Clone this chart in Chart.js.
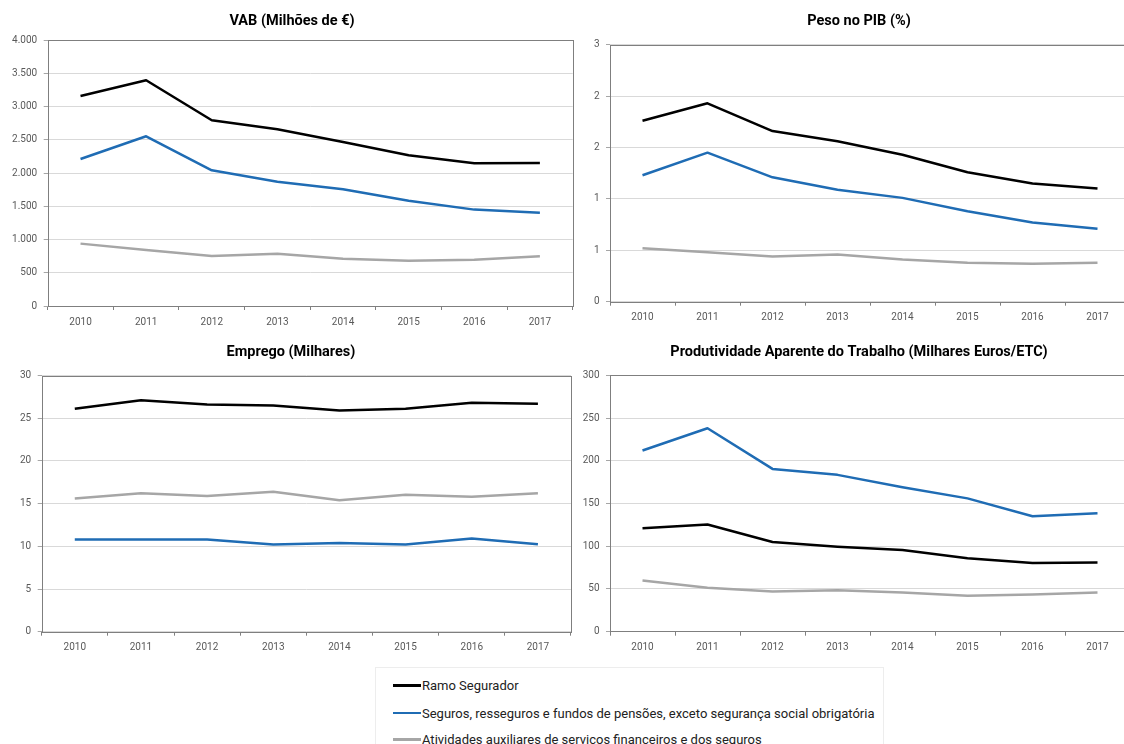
<!DOCTYPE html>
<html>
<head>
<meta charset="utf-8">
<script src="https://cdn.jsdelivr.net/npm/chart.js@4.4.0/dist/chart.umd.min.js"></script>
<style>
  html, body { margin: 0; padding: 0; background: #fff; overflow: hidden; }
  body { width: 1124px; height: 744px; position: relative; font-family: Roboto, sans-serif; }
  .box { position: absolute; }
  #legend { position: absolute; left: 375px; top: 667px; width: 507px; height: 95px; border: 1px solid #ededed; }
  .item { position: absolute; left: 17px; height: 16px; display: flex; align-items: center; font-size: 13px; color: #222; white-space: nowrap; }
  .swatch { width: 28px; height: 2.5px; margin-right: 1px; }
</style>
</head>
<body>
<div class="box" style="left:0;top:0;width:584px;height:330px"><canvas id="vab"></canvas></div>
<div class="box" style="left:570px;top:0;width:567px;height:330px"><canvas id="pib"></canvas></div>
<div class="box" style="left:0;top:330px;width:582px;height:330px"><canvas id="emprego"></canvas></div>
<div class="box" style="left:570px;top:330px;width:567px;height:330px"><canvas id="prod"></canvas></div>
<div id="legend"></div>
<script>
const years = ["2010", "2011", "2012", "2013", "2014", "2015", "2016", "2017"];
const seriesNames = [
    "Ramo Segurador",
    "Seguros, resseguros e fundos de pensões, exceto segurança social obrigatória",
    "Atividades auxiliares de serviços financeiros e dos seguros"
];
const seriesColors = ["#000000", "#1f6cb4", "#a6a6a6"];

// VAB (Milhões de €)
const vabRamo = [3162, 3398, 2796, 2660, 2469, 2269, 2148, 2153];
const vabSeguros = [2213, 2555, 2043, 1872, 1757, 1586, 1451, 1405];
const vabAuxiliares = [939, 843, 753, 788, 713, 683, 698, 748];

// Peso no PIB (%)
const pibRamo = [1.76, 1.93, 1.66, 1.56, 1.43, 1.26, 1.15, 1.10];
const pibSeguros = [1.23, 1.45, 1.21, 1.09, 1.01, 0.88, 0.77, 0.71];
const pibAuxiliares = [0.52, 0.48, 0.44, 0.46, 0.41, 0.38, 0.37, 0.38];

// Emprego (Milhares)
const empregoRamo = [26.1, 27.1, 26.6, 26.5, 25.9, 26.1, 26.8, 26.7];
const empregoSeguros = [10.8, 10.8, 10.8, 10.2, 10.4, 10.2, 10.9, 10.25];
const empregoAuxiliares = [15.6, 16.2, 15.9, 16.4, 15.4, 16.05, 15.8, 16.2];

// Produtividade Aparente do Trabalho (Milhares Euros/ETC)
const prodRamo = [121, 125.5, 105, 99.5, 95.5, 86, 80.5, 81];
const prodSeguros = [212, 238, 190.5, 183.5, 169, 156, 135, 138.5];
const prodAuxiliares = [60, 51.5, 47, 48.5, 46, 42, 43.5, 46];

const tickFont = { family: "Roboto", size: 10 };

// border round the plot area, like the excel frame
const frame = {
    id: "frame",
    beforeDatasetsDraw(chart) {
        const { ctx, chartArea: a } = chart;
        ctx.save();
        ctx.strokeStyle = "#7f7f7f";
        ctx.lineWidth = 1;
        ctx.strokeRect(Math.round(a.left) + 0.5, Math.round(a.top) + 0.5,
            Math.round(a.right - a.left), Math.round(a.bottom - a.top));
        ctx.restore();
    }
};

function thousands(v) {
    return String(v).replace(/\B(?=(\d{3})+(?!\d))/g, ".");
}

function lineChart(id, title, series, yMax, yStep, fmt, box) {
    const scales = {
        x: {
            offset: true,
            border: { display: false },
            grid: { offset: true, drawOnChartArea: false, tickLength: 4, tickColor: "#808080" },
            ticks: { color: "#595959", font: tickFont, padding: 6, maxRotation: 0 },
            afterFit: s => { s.height = box.xH; }
        },
        y: {
            min: 0,
            max: yMax,
            border: { display: false },
            grid: { color: "#d9d9d9", tickLength: 4, tickColor: "#a6a6a6" },
            ticks: { stepSize: yStep, color: "#595959", font: tickFont, padding: 6.5, callback: fmt },
            afterFit: s => { s.width = box.yW; }
        }
    };
    if (box.rW) {
        // empty right axis, only keeps the title centred where the original has it
        scales.spacer = {
            position: "right",
            border: { display: false },
            grid: { display: false },
            ticks: { display: false },
            afterFit: s => { s.width = box.rW; }
        };
    }
    new Chart(document.getElementById(id), {
        type: "line",
        data: {
            labels: years,
            datasets: series.map((values, i) => ({
                label: seriesNames[i],
                data: values,
                borderColor: seriesColors[i],
                backgroundColor: seriesColors[i],
                borderWidth: 2.5,
                pointRadius: 0,
                tension: 0,
                borderJoinStyle: "round"
            }))
        },
        options: {
            responsive: true,
            maintainAspectRatio: false,
            animation: false,
            layout: { padding: { left: box.padL, right: box.padR, top: 0, bottom: 0 } },
            plugins: {
                legend: { display: false },
                tooltip: { enabled: false },
                title: {
                    display: true,
                    text: title,
                    color: "#000",
                    font: { family: "Roboto", size: 14.5, weight: "bold" },
                    padding: { top: box.titleTop, bottom: box.titleBottom }
                }
            },
            scales: scales
        },
        plugins: [frame]
    });
}

lineChart("vab", "VAB (Milhões de €)", [vabRamo, vabSeguros, vabAuxiliares], 4000, 500, thousands,
    { padL: 11.3, padR: 11.3, yW: 36.4, xH: 24, titleTop: 12.3, titleBottom: 10.6 });
lineChart("pib", "Peso no PIB (%)", [pibRamo, pibSeguros, pibAuxiliares], 2.5, 0.5, v => Math.round(v),
    { padL: 11, padR: 0, yW: 29, rW: 7, xH: 28.3, titleTop: 12.3, titleBottom: 15 });
lineChart("emprego", "Emprego (Milhares)", [empregoRamo, empregoSeguros, empregoAuxiliares], 30, 5, v => v,
    { padL: 11, padR: 11, yW: 30.7, xH: 28.3, titleTop: 13.3, titleBottom: 14.8 });
lineChart("prod", "Produtividade Aparente do Trabalho (Milhares Euros/ETC)", [prodRamo, prodSeguros, prodAuxiliares], 300, 50, v => v,
    { padL: 11, padR: 0, yW: 29, rW: 7, xH: 28.3, titleTop: 13.3, titleBottom: 14.6 });

// shared legend below the four charts
const legend = document.getElementById("legend");
const rowTops = [9.5, 37, 63.5];
seriesNames.forEach((name, i) => {
    const item = document.createElement("div");
    item.className = "item";
    item.style.top = rowTops[i] + "px";
    item.innerHTML = `<span class="swatch" style="background:${seriesColors[i]}"></span>${name}`;
    legend.appendChild(item);
});
</script>
</body>
</html>
